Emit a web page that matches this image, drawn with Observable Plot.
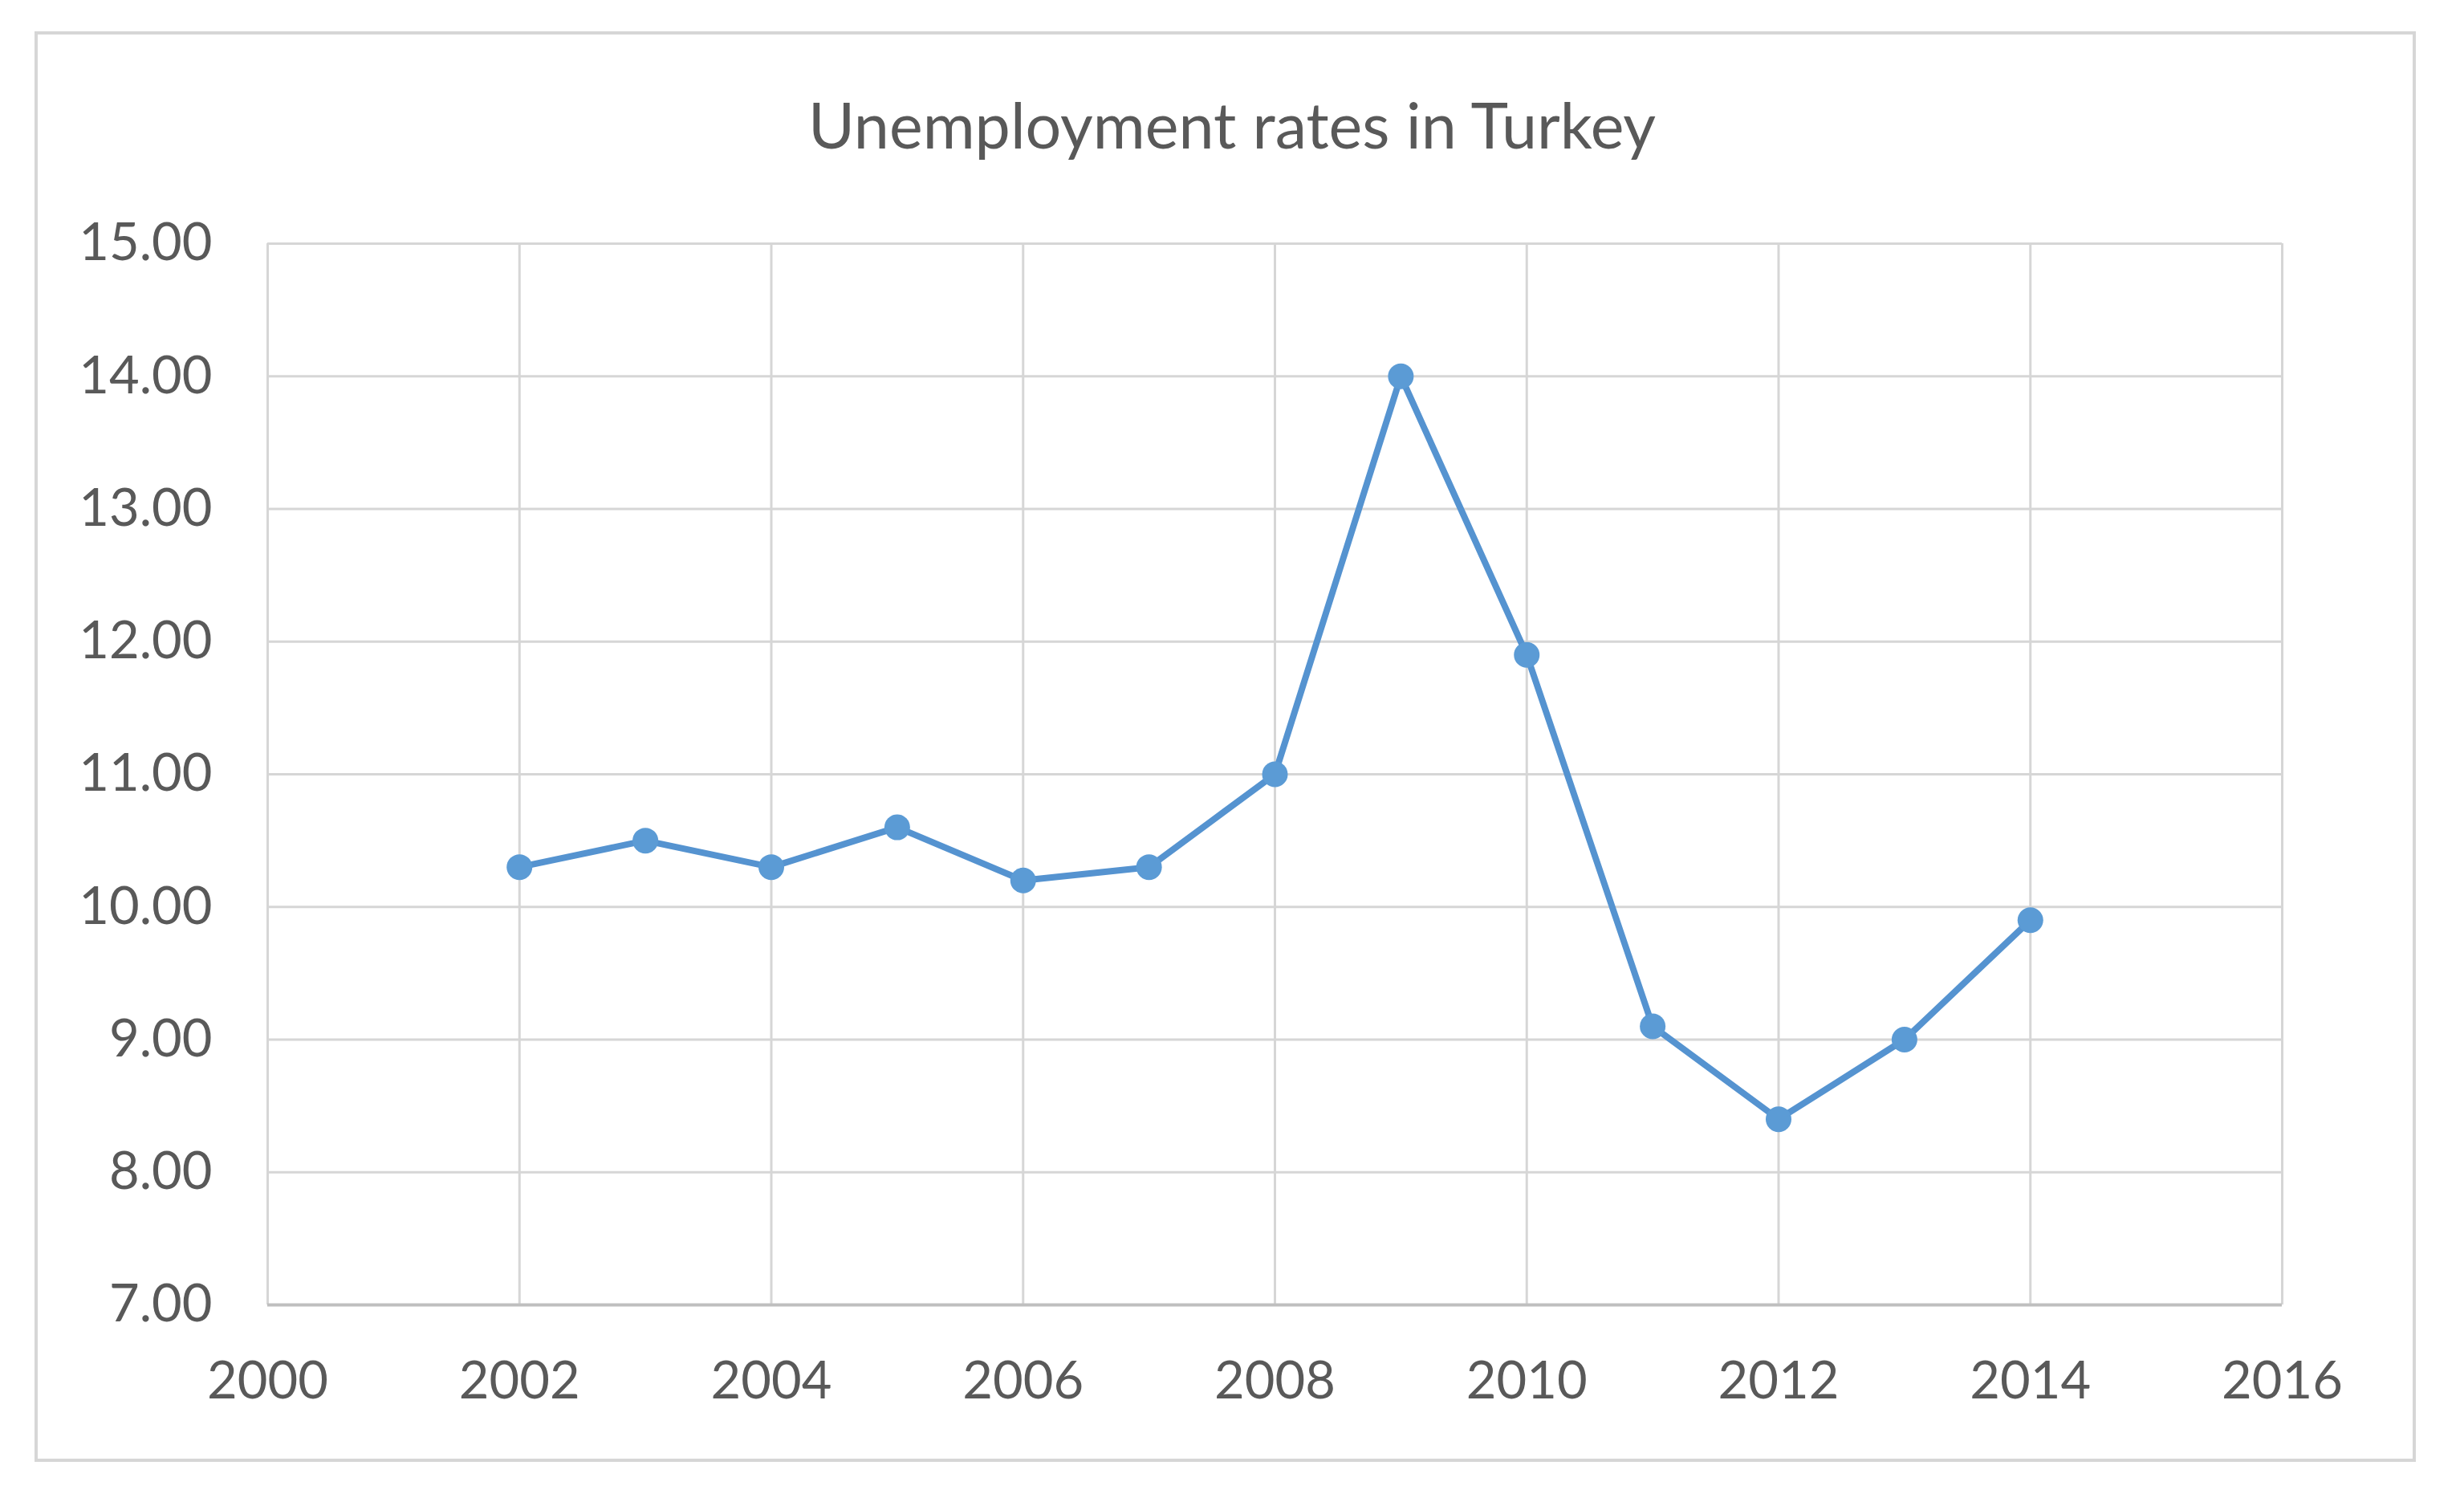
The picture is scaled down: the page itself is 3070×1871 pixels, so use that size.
<!DOCTYPE html>
<html>
<head>
<meta charset="utf-8">
<script src="https://cdn.jsdelivr.net/npm/d3@7"></script>
<script src="https://cdn.jsdelivr.net/npm/@observablehq/plot@0.6"></script>
<style>
  html, body { margin: 0; padding: 0; background: #ffffff; }
  #page { position: relative; width: 3070px; height: 1871px; overflow: hidden; background: #fff; }
  #frame { position: absolute; left: 43px; top: 39px; width: 2967px; height: 1782px;
           box-sizing: border-box; border: 4px solid #d6d6d6; }
  #title { position: absolute; left: 0; width: 3070px; top: 108px; text-align: center;
           font-family: Lato, "Open Sans", sans-serif; font-size: 79px; color: #595959;
           line-height: 94px; }
  #chart { position: absolute; left: 0; top: 0; }
</style>
</head>
<body>
<div id="page">
  <div id="frame"></div>
  <div id="title"></div>
  <div id="chart"></div>
</div>
<script>
const chartTitle = "Unemployment rates in Turkey";
const years = [2002, 2003, 2004, 2005, 2006, 2007, 2008, 2009, 2010, 2011, 2012, 2013, 2014];
const rates = [10.3, 10.5, 10.3, 10.6, 10.2, 10.3, 11.0, 14.0, 11.9, 9.1, 8.4, 9.0, 9.9];
const xTicks = [2000, 2002, 2004, 2006, 2008, 2010, 2012, 2014, 2016];
const yTicks = [7, 8, 9, 10, 11, 12, 13, 14, 15];

const data = years.map((year, i) => ({year, rate: rates[i]}));

document.getElementById("title").textContent = chartTitle;

const chart = Plot.plot({
  width: 3070,
  height: 1871,
  marginLeft: 333,
  marginRight: 227,
  marginTop: 303,
  marginBottom: 246,
  style: {fontFamily: "Lato, 'Open Sans', sans-serif", fontSize: "65px", color: "#595959", background: "transparent", overflow: "visible"},
  x: {type: "linear", domain: [2000, 2016]},
  y: {type: "linear", domain: [7, 15]},
  marks: [
    Plot.gridX(xTicks, {stroke: "#d6d6d6", strokeOpacity: 1, strokeWidth: 3}),
    Plot.gridY(yTicks, {stroke: "#d6d6d6", strokeOpacity: 1, strokeWidth: 3}),
    Plot.ruleY([7], {stroke: "#bfbfbf", strokeWidth: 4}),
    Plot.axisX(xTicks, {tickSize: 0, tickPadding: 70, tickFormat: d => String(d), label: null, fill: "#595959"}),
    Plot.axisY(yTicks, {tickSize: 0, tickPadding: 69, tickFormat: d => d.toFixed(2), label: null, fill: "#595959"}),
    Plot.line(data, {x: "year", y: "rate", stroke: "#5593d0", strokeWidth: 8}),
    Plot.dot(data, {x: "year", y: "rate", r: 16, fill: "#5b9bd5", stroke: "none"})
  ]
});
document.getElementById("chart").appendChild(chart);
</script>
</body>
</html>
